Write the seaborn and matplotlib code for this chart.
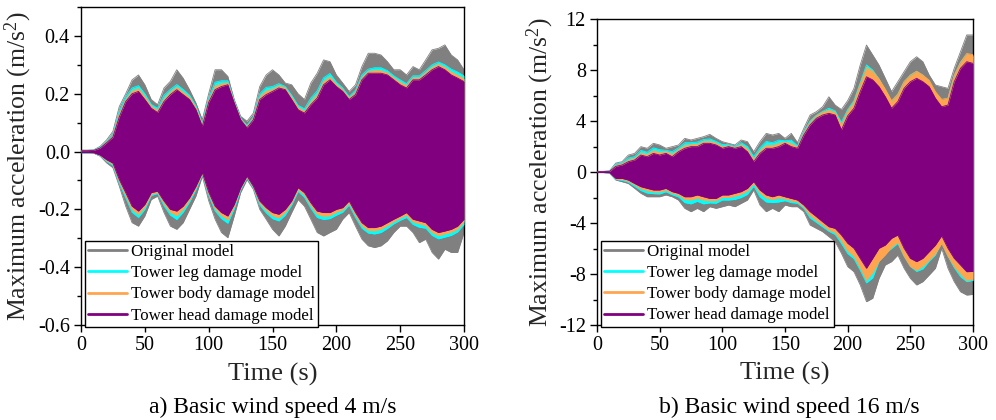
import numpy as np
import pandas as pd
import matplotlib
matplotlib.use("Agg")
import matplotlib.pyplot as plt
import seaborn as sns
from matplotlib.lines import Line2D
from matplotlib.ticker import MultipleLocator

# ---------------------------------------------------------------------------
# Envelope (max / min) of the acceleration response, sampled every 5 s
# ---------------------------------------------------------------------------
time_s = list(range(0, 301, 5))

models = ["Original model", "Tower leg damage model",
          "Tower body damage model", "Tower head damage model"]
colors = ["#808080", "#00FFFF", "#FFA54F", "#800080"]

# ---- a) basic wind speed 4 m/s ----
a_orig_up = [0.005, 0.005, 0.006, 0.018, 0.04, 0.07, 0.156, 0.2, 0.248, 0.265, 0.231, 0.18, 0.162, 0.22, 0.243, 0.283,
             0.254, 0.214, 0.168, 0.11, 0.2, 0.283, 0.283, 0.26, 0.18, 0.122, 0.105, 0.133, 0.225, 0.265, 0.283, 0.265,
             0.237, 0.231, 0.2, 0.18, 0.237, 0.271, 0.317, 0.311, 0.265, 0.237, 0.208, 0.231, 0.294, 0.34, 0.34, 0.334,
             0.311, 0.283, 0.283, 0.265, 0.294, 0.283, 0.317, 0.352, 0.357, 0.369, 0.334, 0.317, 0.283]
a_orig_lo = [-0.005, -0.005, -0.006, -0.016, -0.039, -0.056, -0.12, -0.189, -0.246, -0.258, -0.223, -0.166, -0.154,
             -0.211, -0.258, -0.269, -0.246, -0.2, -0.154, -0.085, -0.17, -0.234, -0.28, -0.298, -0.223, -0.142, -0.097,
             -0.131, -0.2, -0.234, -0.269, -0.292, -0.258, -0.211, -0.166, -0.189, -0.234, -0.28, -0.292, -0.28, -0.269,
             -0.234, -0.211, -0.258, -0.303, -0.326, -0.332, -0.326, -0.309, -0.28, -0.258, -0.258, -0.28, -0.315,
             -0.303, -0.349, -0.372, -0.338, -0.349, -0.349, -0.28]
a_leg_up = [0.004, 0.004, 0.005, 0.015, 0.036, 0.06, 0.14, 0.19, 0.22, 0.228, 0.2, 0.163, 0.15, 0.195, 0.215, 0.232,
            0.215, 0.195, 0.158, 0.097, 0.185, 0.24, 0.245, 0.245, 0.175, 0.116, 0.09, 0.12, 0.2, 0.222, 0.225, 0.235,
            0.225, 0.195, 0.16, 0.148, 0.185, 0.21, 0.255, 0.27, 0.24, 0.22, 0.19, 0.212, 0.265, 0.285, 0.29, 0.29,
            0.28, 0.262, 0.248, 0.235, 0.262, 0.262, 0.28, 0.3, 0.31, 0.3, 0.285, 0.275, 0.262]
a_leg_lo = [-0.004, -0.004, -0.005, -0.014, -0.034, -0.048, -0.11, -0.16, -0.21, -0.228, -0.2, -0.152, -0.145, -0.188,
            -0.22, -0.235, -0.21, -0.175, -0.132, -0.078, -0.152, -0.205, -0.232, -0.248, -0.198, -0.132, -0.09,
            -0.126, -0.185, -0.212, -0.232, -0.24, -0.22, -0.185, -0.138, -0.158, -0.196, -0.228, -0.235, -0.232,
            -0.22, -0.21, -0.185, -0.228, -0.265, -0.282, -0.285, -0.28, -0.266, -0.25, -0.238, -0.228, -0.252,
            -0.262, -0.265, -0.29, -0.302, -0.296, -0.29, -0.278, -0.252]
a_body_up = [0.0035, 0.0035, 0.0045, 0.013, 0.033, 0.055, 0.13, 0.18, 0.21, 0.218, 0.19, 0.157, 0.142, 0.183, 0.206,
             0.223, 0.206, 0.188, 0.152, 0.092, 0.177, 0.226, 0.235, 0.238, 0.172, 0.113, 0.086, 0.115, 0.19, 0.21,
             0.216, 0.228, 0.22, 0.188, 0.153, 0.14, 0.173, 0.197, 0.243, 0.258, 0.232, 0.214, 0.185, 0.205, 0.256,
             0.278, 0.28, 0.28, 0.272, 0.255, 0.24, 0.228, 0.255, 0.255, 0.273, 0.292, 0.302, 0.292, 0.275, 0.264,
             0.252]
a_body_lo = [-0.0035, -0.0035, -0.0045, -0.013, -0.031, -0.044, -0.104, -0.152, -0.2, -0.218, -0.192, -0.148, -0.141,
             -0.18, -0.21, -0.222, -0.2, -0.168, -0.126, -0.076, -0.146, -0.197, -0.222, -0.236, -0.19, -0.128, -0.088,
             -0.123, -0.178, -0.203, -0.222, -0.23, -0.21, -0.178, -0.132, -0.15, -0.187, -0.217, -0.224, -0.222,
             -0.21, -0.202, -0.178, -0.22, -0.256, -0.273, -0.274, -0.269, -0.256, -0.242, -0.23, -0.22, -0.243,
             -0.25, -0.256, -0.28, -0.291, -0.285, -0.279, -0.268, -0.243]
a_head_up = [0.003, 0.003, 0.004, 0.012, 0.03, 0.05, 0.12, 0.173, 0.2, 0.208, 0.18, 0.15, 0.135, 0.173, 0.197, 0.214,
             0.197, 0.18, 0.145, 0.087, 0.17, 0.214, 0.225, 0.231, 0.168, 0.11, 0.082, 0.11, 0.18, 0.197, 0.208, 0.22,
             0.214, 0.18, 0.145, 0.133, 0.162, 0.185, 0.231, 0.248, 0.225, 0.208, 0.18, 0.197, 0.248, 0.271, 0.271,
             0.271, 0.265, 0.248, 0.231, 0.22, 0.248, 0.248, 0.265, 0.283, 0.294, 0.283, 0.265, 0.254, 0.242]
a_head_lo = [-0.003, -0.003, -0.004, -0.012, -0.028, -0.04, -0.097, -0.142, -0.189, -0.206, -0.183, -0.142, -0.137,
             -0.171, -0.2, -0.206, -0.189, -0.16, -0.12, -0.073, -0.14, -0.189, -0.211, -0.223, -0.183, -0.125, -0.085,
             -0.12, -0.171, -0.194, -0.211, -0.217, -0.2, -0.171, -0.125, -0.142, -0.177, -0.206, -0.211, -0.211,
             -0.2, -0.194, -0.171, -0.211, -0.246, -0.263, -0.263, -0.258, -0.246, -0.234, -0.223, -0.211, -0.234,
             -0.24, -0.246, -0.269, -0.28, -0.275, -0.269, -0.258, -0.234]

# ---- b) basic wind speed 16 m/s ----
b_orig_up = [0.05, 0.05, 0.1, 0.7, 0.81, 1.33, 1.46, 1.99, 1.86, 2.25, 2.12, 1.86, 1.99, 2.12, 2.64, 2.51, 2.64, 2.77,
             2.95, 2.64, 2.38, 2.25, 2.12, 2.51, 2.38, 1.59, 2.38, 3.03, 2.9, 3.03, 2.64, 3.03, 2.3, 3.43, 4.47, 4.73,
             5.12, 5.9, 5.25, 4.9, 5.6, 6.56, 8.39, 9.96, 9.18, 8.39, 7.35, 6.3, 7.08, 7.87, 8.65, 9.04, 8.65, 7.61,
             6.82, 6.69, 6.56, 8.13, 9.43, 10.75, 10.75]
b_orig_lo = [-0.05, -0.05, -0.1, -0.63, -0.76, -0.9, -1.28, -1.67, -1.94, -1.94, -1.94, -1.8, -1.94, -2.2, -2.85,
             -3.11, -2.85, -3.11, -2.72, -2.85, -2.72, -2.59, -2.72, -2.46, -2.2, -1.41, -2.59, -3.11, -2.85, -3.11,
             -2.59, -2.72, -2.72, -3.11, -4.16, -4.42, -4.68, -5.07, -5.46, -6.38, -7.42, -7.82, -8.86, -10.17, -9.9,
             -8.34, -7.29, -7.03, -6.51, -7.55, -8.34, -8.86, -8.6, -8.08, -7.55, -5.98, -7.55, -8.6, -9.39, -9.65,
             -9.6]
b_leg_up = [0.04, 0.04, 0.07, 0.6, 0.72, 1.1, 1.2, 1.7, 1.55, 1.9, 1.75, 1.7, 1.6, 1.9, 2.3, 2.3, 2.35, 2.55, 2.6, 2.4,
            2.15, 2.15, 2.0, 2.3, 2.0, 1.2, 1.9, 2.4, 2.3, 2.5, 2.45, 2.5, 2.05, 3.15, 4.0, 4.45, 4.75, 5.0, 4.8, 3.9,
            4.9, 5.6, 7.0, 8.4, 8.0, 7.3, 6.4, 5.5, 6.1, 7.0, 7.6, 7.9, 7.6, 7.0, 6.1, 5.6, 5.7, 7.5, 8.6, 9.2, 9.1]
b_leg_lo = [-0.04, -0.04, -0.07, -0.58, -0.65, -0.8, -1.12, -1.45, -1.65, -1.7, -1.72, -1.55, -1.78, -1.95, -2.4, -2.5,
            -2.3, -2.5, -2.42, -2.45, -2.2, -2.2, -2.15, -2.0, -1.75, -1.1, -1.95, -2.35, -2.4, -2.35, -2.25, -2.4,
            -2.45, -2.85, -3.6, -3.95, -4.3, -4.65, -4.9, -5.6, -6.4, -6.8, -7.7, -8.7, -8.3, -7.0, -6.4, -6.0, -5.6,
            -6.6, -7.4, -7.8, -7.6, -7.0, -6.5, -5.5, -6.6, -7.5, -8.2, -8.6, -8.5]
b_body_up = [0.035, 0.035, 0.06, 0.52, 0.64, 0.95, 1.07, 1.5, 1.37, 1.68, 1.54, 1.6, 1.4, 1.75, 2.08, 2.15, 2.17, 2.4,
             2.42, 2.26, 2.0, 2.07, 1.93, 2.15, 1.8, 1.0, 1.68, 2.1, 2.08, 2.25, 2.35, 2.25, 1.96, 3.05, 3.9, 4.4, 4.7,
             4.85, 4.7, 3.7, 4.8, 5.5, 6.9, 8.2, 7.9, 7.3, 6.5, 5.6, 6.1, 7.1, 7.6, 7.9, 7.6, 7.2, 6.3, 5.7, 5.8, 7.6,
             8.6, 9.3, 9.2]
b_body_lo = [-0.035, -0.035, -0.06, -0.54, -0.58, -0.72, -1.0, -1.3, -1.46, -1.56, -1.56, -1.42, -1.66, -1.8, -2.15,
             -2.2, -2.05, -2.2, -2.25, -2.25, -2.0, -2.0, -1.9, -1.75, -1.5, -0.9, -1.65, -2.05, -2.15, -2.05, -2.1,
             -2.25, -2.35, -2.75, -3.4, -3.8, -4.15, -4.55, -4.75, -5.4, -6.2, -6.6, -7.5, -8.5, -7.9, -7.0, -6.5, -5.9,
             -5.5, -6.6, -7.4, -7.7, -7.4, -6.9, -6.4, -5.6, -6.6, -7.4, -8.0, -8.5, -8.4]
b_head_up = [0.03, 0.03, 0.05, 0.44, 0.55, 0.81, 0.94, 1.33, 1.2, 1.46, 1.33, 1.46, 1.2, 1.59, 1.86, 1.99, 1.99, 2.25,
             2.25, 2.12, 1.86, 1.99, 1.86, 1.99, 1.59, 0.81, 1.46, 1.86, 1.86, 1.99, 2.25, 1.99, 1.86, 2.9, 3.69, 4.21,
             4.47, 4.6, 4.47, 3.3, 4.4, 5.0, 6.3, 7.47, 7.22, 6.69, 5.91, 5.0, 5.52, 6.56, 7.08, 7.35, 7.08, 6.69, 5.78,
             5.12, 5.25, 7.08, 8.13, 8.65, 8.52]
b_head_lo = [-0.03, -0.03, -0.05, -0.5, -0.5, -0.63, -0.9, -1.15, -1.28, -1.41, -1.41, -1.28, -1.54, -1.67, -1.94,
             -1.94, -1.8, -1.94, -2.07, -2.07, -1.8, -1.8, -1.67, -1.54, -1.28, -0.75, -1.41, -1.8, -1.94, -1.8, -1.94,
             -2.07, -2.2, -2.59, -3.11, -3.5, -3.9, -4.29, -4.42, -4.94, -5.59, -5.98, -6.77, -7.55, -6.77, -5.98,
             -5.73, -5.2, -4.94, -5.98, -6.77, -7.03, -6.77, -6.25, -5.73, -5.0, -5.98, -6.77, -7.29, -7.82, -7.8]

panels = [
    {"caption": "a) Basic wind speed 4 m/s",
     "up": [a_orig_up, a_leg_up, a_body_up, a_head_up],
     "lo": [a_orig_lo, a_leg_lo, a_body_lo, a_head_lo],
     "ylim": (-0.6, 0.5), "major": 0.2, "minor": 0.1, "fmt": "{:.1f}"},
    {"caption": "b) Basic wind speed 16 m/s",
     "up": [b_orig_up, b_leg_up, b_body_up, b_head_up],
     "lo": [b_orig_lo, b_leg_lo, b_body_lo, b_head_lo],
     "ylim": (-12, 12), "major": 4, "minor": 2, "fmt": "{:.0f}"},
]

# ---------------------------------------------------------------------------
sns.set_theme(style="ticks")
plt.rcParams.update({
    "font.family": ["Liberation Serif", "DejaVu Serif"],
    "mathtext.fontset": "custom",
    "mathtext.rm": "Liberation Serif",
    "mathtext.it": "Liberation Serif:italic",
    "axes.unicode_minus": False,
    "axes.edgecolor": "black",
    "axes.linewidth": 1.0,
    "xtick.color": "black",
    "ytick.color": "black",
    "text.color": "black",
})

fig = plt.figure(figsize=(9.96, 4.2), dpi=100)
ax_rects = [
    [81 / 996, 1 - 325 / 420, 383 / 996, 318 / 420],
    [597 / 996, 1 - 325 / 420, 376 / 996, 306 / 420],
]
ylabel_x = [-0.123, -0.109]
caption_x = [273 / 996, 789 / 996]

for p, rect, ylx, cx in zip(panels, ax_rects, ylabel_x, caption_x):
    ax = fig.add_axes(rect)
    for k, (name, col, up, lo) in enumerate(zip(models, colors, p["up"], p["lo"])):
        ax.fill_between(time_s, lo, up, color=col, linewidth=0, zorder=2 + k)
        outline = pd.DataFrame({
            "time": time_s + time_s,
            "value": list(up) + list(lo),
            "bound": ["max"] * len(time_s) + ["min"] * len(time_s),
        })
        sns.lineplot(data=outline, x="time", y="value", units="bound",
                     estimator=None, color=col, linewidth=0.6, ax=ax,
                     legend=False, zorder=2 + k)

    ax.set_xlim(0, 300)
    ax.set_ylim(*p["ylim"])
    ax.xaxis.set_major_locator(MultipleLocator(50))
    ax.yaxis.set_major_locator(MultipleLocator(p["major"]))
    ax.yaxis.set_minor_locator(MultipleLocator(p["minor"]))
    ax.yaxis.set_major_formatter(plt.FuncFormatter(lambda v, _pos, f=p["fmt"]: f.format(v + 0.0)))
    ax.tick_params(which="major", direction="out", length=5, width=1, labelsize=14.5,
                   top=False, right=False, pad=3)
    ax.tick_params(which="minor", direction="out", length=3, width=1,
                   top=False, right=False, bottom=False)
    for s in ax.spines.values():
        s.set_visible(True)
        s.set_color("black")
        s.set_linewidth(1.0)

    ax.set_xlabel("Time (s)", fontsize=19)
    ax.xaxis.set_label_coords(0.5, -0.12)
    ax.xaxis.label.set_va("top")
    ax.set_ylabel("Maximum acceleration (m/s$^2$)", fontsize=18.5)
    ax.yaxis.set_label_coords(ylx, 0.5)

    handles = [Line2D([0], [0], color=c, linewidth=2) for c in colors]
    leg = ax.legend(handles, models, loc="lower left", bbox_to_anchor=(0.01, -0.006),
                    borderaxespad=0, frameon=True, fancybox=False, framealpha=1,
                    edgecolor="black", fontsize=12.2, handlelength=2.3,
                    handletextpad=0.2, borderpad=0.2, labelspacing=0.3)
    leg.get_frame().set_linewidth(1.0)
    leg.set_zorder(10)

    fig.text(cx, 1 - 407 / 420, p["caption"], ha="center", va="center", fontsize=17)

fig.savefig("out.png", dpi=100)
